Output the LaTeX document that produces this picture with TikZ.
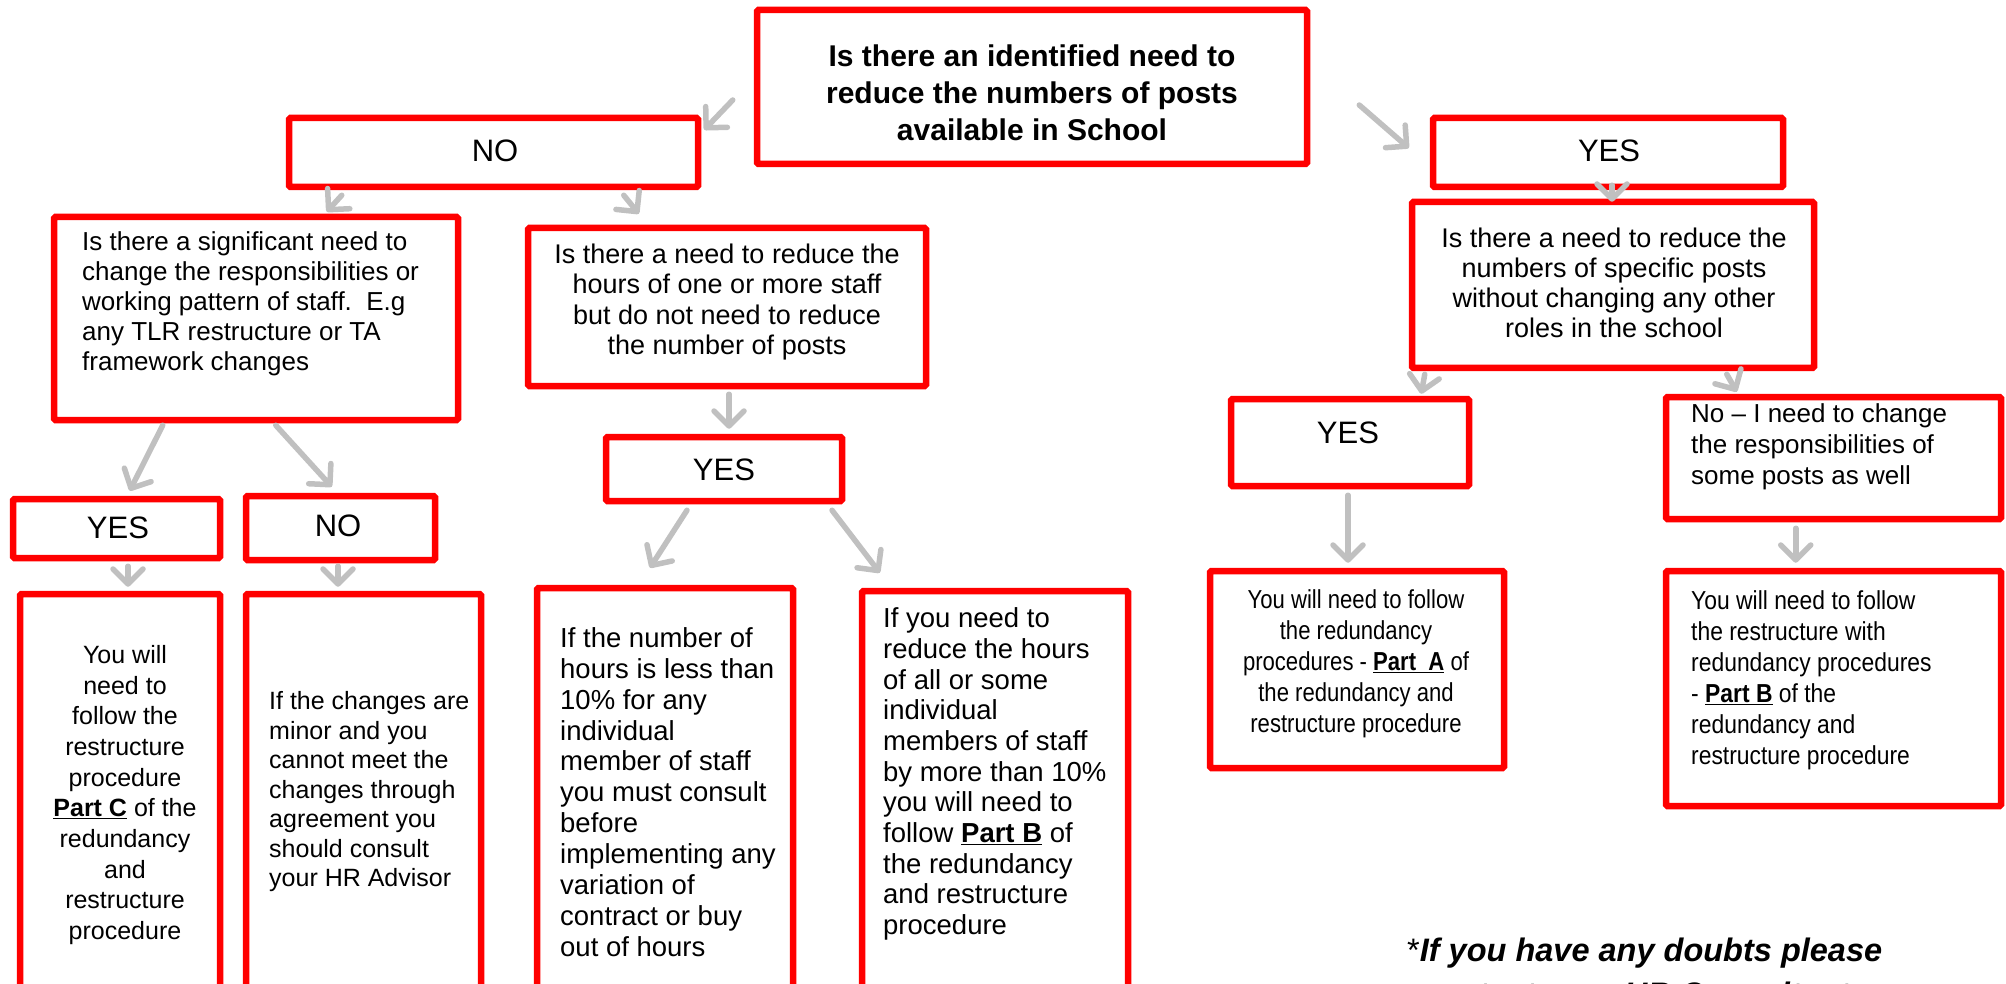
\documentclass[tikz,border=0pt]{standalone}
\usepackage{fontspec}
\setmainfont{Liberation Sans}
\newfontfamily\nfontA[FakeStretch=0.85]{Liberation Sans}
\newfontfamily\nfontB[FakeStretch=0.88]{Liberation Sans}
\usetikzlibrary{arrows.meta}
\definecolor{boxred}{RGB}{255,0,0}
\definecolor{arrgray}{RGB}{192,192,192}
\tikzset{
  box/.style={draw=boxred, line width=6.5pt, rounded corners=1.5pt, fill=white, inner sep=0pt},
  arr/.style={draw=arrgray, line width=5.5pt, line cap=round, -{Straight Barb[length=15pt,width=30pt,round]}},
  txt/.style={inner sep=0pt, font=\fontsize{26}{30}\selectfont},
  lbl/.style={inner sep=0pt, font=\fontsize{31}{34}\selectfont},
}
\begin{document}
\begin{tikzpicture}[x=1pt,y=-1pt]
\useasboundingbox (0,0) rectangle (2006,984);
\begin{scope}
\clip (0,0) rectangle (2006,984);
% boxes
\node[box, minimum width=550pt, minimum height=154pt] (top) at (1032,87) {};
\node[box, minimum width=409pt, minimum height=69pt] (no) at (493.5,152.5) {};
\node[box, minimum width=350pt, minimum height=69pt] (yesr) at (1608,152.5) {};
\node[box, minimum width=404pt, minimum height=203pt] (leftq) at (256,318.5) {};
\node[box, minimum width=398pt, minimum height=158pt] (midq) at (727,307) {};
\node[box, minimum width=236pt, minimum height=64pt] (yesm) at (724,469) {};
\node[box, minimum width=207pt, minimum height=59pt] (lyes) at (116.5,528.5) {};
\node[box, minimum width=189pt, minimum height=64pt] (lno) at (340.5,528) {};
\node[box, minimum width=200pt, minimum height=406pt] (b1) at (120,797) {};
\node[box, minimum width=235pt, minimum height=406pt] (b2) at (363.5,797) {};
\node[box, minimum width=256pt, minimum height=412pt] (b3) at (665,794) {};
\node[box, minimum width=266pt, minimum height=409pt] (b4) at (995,795.5) {};
\node[box, minimum width=402pt, minimum height=166pt] (rq) at (1613,285) {};
\node[box, minimum width=238pt, minimum height=87pt] (yes2) at (1350,442.5) {};
\node[box, minimum width=335pt, minimum height=122pt] (nob) at (1833.5,458) {};
\node[box, minimum width=294pt, minimum height=197pt] (r1) at (1357,669.5) {};
\node[box, minimum width=335pt, minimum height=235pt] (r2) at (1833.5,688.5) {};
% arrows
\draw[arr] ([shift={(-21,13)}]top.west) -- ([shift={(3,15)}]no.north east);
\draw[arr] ([shift={(49,18)}]top.east) -- ([shift={(-21,-4.5)}]yesr.west);
\draw[arr] ([shift={(56,5)}]no.south west) -- ([shift={(276,-2)}]leftq.north west);
\draw[arr] ([shift={(338,5)}]no.south west) -- ([shift={(114,-11)}]midq.north west);
\draw[arr] ([shift={(112,2)}]leftq.south west) -- ([shift={(120,-5)}]lyes.north west);
\draw[arr] ([shift={(225,2)}]leftq.south west) -- ([shift={(89,-6)}]lno.north west);
\draw[arr] ([shift={(2,5)}]midq.south) -- ([shift={(5,-5)}]yesm.north);
\draw[arr] ([shift={(11.5,5)}]lyes.south) -- ([shift={(8,-4)}]b1.north);
\draw[arr] ([shift={(-2.5,3)}]lno.south) -- ([shift={(-25.5,-4)}]b2.north);
\draw[arr] ([shift={(-37,6)}]yesm.south) -- ([shift={(-15,-17)}]b3.north);
\draw[arr] ([shift={(108,6)}]yesm.south) -- ([shift={(21,-15)}]b4.north west);
\draw[arr] ([shift={(4,-5)}]yesr.south) -- ([shift={(-1,3)}]rq.north);
\draw[arr] ([shift={(16,3)}]rq.south west) -- ([shift={(-51,-2)}]yes2.north east);
\draw[arr] ([shift={(318,3)}]rq.south west) -- ([shift={(74,-2)}]nob.north west);
\draw[arr] ([shift={(-2,6)}]yes2.south) -- ([shift={(-9,-5)}]r1.north);
\draw[arr] ([shift={(133,6)}]nob.south west) -- ([shift={(133,-5)}]r2.north west);
% texts
\node[inner sep=0pt, align=center, font=\bfseries\fontsize{30}{37}\selectfont] (ttop) at (1032,93)
  {Is there an identified need to\\reduce the numbers of posts\\available in School};
\node[lbl] (tno) at (495,151) {NO};
\node[lbl] (tyesr) at (1609,151) {YES};
\node[lbl] (tyesm) at (724,470) {YES};
\node[lbl] (tlyes) at (118,528) {YES};
\node[lbl] (tlno) at (338,526) {NO};
\node[lbl] (tyes2) at (1348,433) {YES};
\node[txt, align=left, anchor=west] (tleftq) at (82,304)
  {Is there a significant need to\\change the responsibilities or\\working pattern of staff.\ \ E.g\\any TLR restructure or TA\\framework changes};
\node[txt, align=center, font=\fontsize{27}{30.5}\selectfont] (tmidq) at (727,302)
  {Is there a need to reduce the\\hours of one or more staff\\but do not need to reduce\\the number of posts};
\node[txt, align=center, font=\fontsize{25}{30.7}\selectfont] (tb1) at (125,795)
  {You will\\need to\\follow the\\restructure\\procedure\\\underline{\textbf{Part C}} of the\\redundancy\\and\\restructure\\procedure};
\node[txt, align=left, anchor=west, font=\fontsize{25}{29.5}\selectfont] (tb2) at (269,792)
  {If the changes are\\minor and you\\cannot meet the\\changes through\\agreement you\\should consult\\your HR Advisor};
\node[txt, align=left, anchor=west, font=\fontsize{27.5}{30.9}\selectfont] (tb3) at (560,792)
  {If the number of\\hours is less than\\10\% for any\\individual\\member of staff\\you must consult\\before\\implementing any\\variation of\\contract or buy\\out of hours};
\node[txt, align=left, anchor=west, font=\fontsize{27.5}{30.7}\selectfont] (tb4) at (883,774)
  {If you need to\\reduce the hours\\of all or some\\individual\\members of staff\\by more than 10\%\\you will need to\\follow \underline{\textbf{Part B}} of\\the redundancy\\and restructure\\procedure};
\node[txt, align=center, font=\fontsize{27}{30}\selectfont] (trq) at (1614,283)
  {Is there a need to reduce the\\numbers of specific posts\\without changing any other\\roles in the school};
\node[txt, align=left, anchor=west, font=\fontsize{26}{31}\selectfont] (tnob) at (1691,447)
  {No – I need to change\\the responsibilities of\\some posts as well};
\node[txt, align=center, font=\nfontA\fontsize{26}{31}\selectfont] (tr1) at (1356,664)
  {You will need to follow\\the redundancy\\procedures - \underline{\textbf{Part\ \ A}} of\\the redundancy and\\restructure procedure};
\node[txt, align=left, anchor=west, font=\nfontB\fontsize{26}{31}\selectfont] (tr2) at (1691,680)
  {You will need to follow\\the restructure with\\redundancy procedures\\- \underline{\textbf{Part B}} of the\\redundancy and\\restructure procedure};
\node[inner sep=0pt, align=left, anchor=north west, font=\fontsize{32.5}{44}\selectfont] (foot) at (1407,938)
  {*\textbf{\textit{If you have any doubts please}}\\\hphantom{*}\textbf{\textit{contact your HR Consultant}}};
\end{scope}
\end{tikzpicture}
\end{document}
